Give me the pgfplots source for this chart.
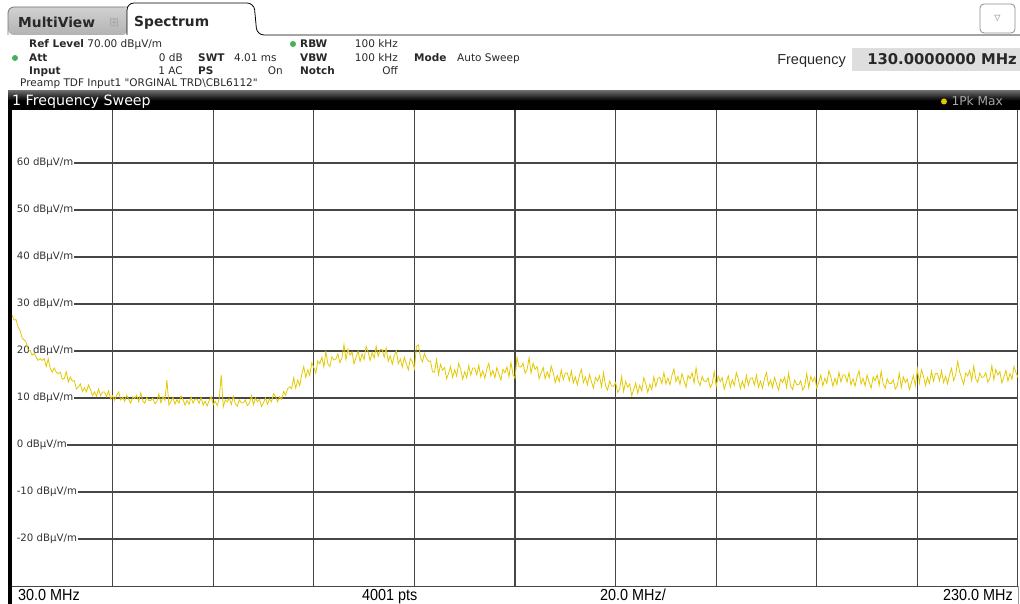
\documentclass[border=0pt]{standalone}
\usepackage{pgfplots}
\pgfplotsset{compat=1.18}
\usepackage{pgfplotstable}
\usepackage{fontspec}
\setmainfont{DejaVu Sans}[Ligatures=TeXOff]
\newfontfamily\libsans{Liberation Sans}
\newfontfamily\narrow[FakeStretch=0.9]{Liberation Sans}
\definecolor{trace}{RGB}{226,200,0}
\definecolor{gridc}{RGB}{70,70,70}
\definecolor{ledgreen}{RGB}{70,175,90}
\definecolor{freqbox}{RGB}{222,222,222}
\definecolor{hdrtext}{RGB}{40,40,40}

\pgfplotstableread[row sep=\\]{
x y\\
30.0 27.6\\ 30.4 26.6\\ 30.8 26.7\\ 31.2 25.1\\ 31.6 24.4\\ 32.0 22.8\\ 32.4 22.4\\ 32.8 21.9\\ 33.2 20.3\\ 33.6 20.1\\
34.0 19.1\\ 34.4 19.5\\ 34.8 18.7\\ 35.2 18.0\\ 35.6 18.4\\ 36.0 18.0\\ 36.4 18.4\\ 36.8 16.7\\ 37.2 18.3\\ 37.6 16.3\\
38.0 15.5\\ 38.4 16.4\\ 38.8 15.5\\ 39.2 15.2\\ 39.6 15.5\\ 40.0 14.0\\ 40.4 14.2\\ 40.8 15.6\\ 41.2 13.4\\ 41.6 14.5\\
42.0 13.6\\ 42.4 13.7\\ 42.8 11.9\\ 43.2 12.4\\ 43.6 13.0\\ 44.0 11.4\\ 44.4 12.2\\ 44.8 11.3\\ 45.2 12.8\\ 45.6 11.8\\
46.0 10.5\\ 46.4 11.3\\ 46.8 10.4\\ 47.2 11.9\\ 47.6 10.5\\ 48.0 11.3\\ 48.4 11.3\\ 48.8 10.3\\ 49.2 11.5\\ 49.6 9.8\\
50.0 10.5\\ 50.4 9.5\\ 50.8 10.6\\ 51.2 11.3\\ 51.6 9.6\\ 52.0 10.2\\ 52.4 9.3\\ 52.8 10.6\\ 53.2 9.7\\ 53.6 8.9\\
54.0 10.3\\ 54.4 9.9\\ 54.8 10.6\\ 55.2 9.2\\ 55.6 11.1\\ 56.0 9.4\\ 56.4 8.9\\ 56.8 10.1\\ 57.2 9.5\\ 57.6 9.5\\
58.0 10.0\\ 58.4 8.8\\ 58.8 9.3\\ 59.2 10.9\\ 59.6 9.0\\ 60.0 10.3\\ 60.4 9.5\\ 60.8 13.8\\ 61.2 8.5\\ 61.6 9.3\\
62.0 10.1\\ 62.4 8.7\\ 62.8 9.7\\ 63.2 8.9\\ 63.6 10.5\\ 64.0 9.7\\ 64.4 8.5\\ 64.8 9.5\\ 65.2 8.7\\ 65.6 10.2\\
66.0 8.9\\ 66.4 9.8\\ 66.8 9.8\\ 67.2 8.9\\ 67.6 10.1\\ 68.0 8.5\\ 68.4 9.3\\ 68.8 8.3\\ 69.2 9.5\\ 69.6 10.3\\
70.0 8.6\\ 70.4 9.3\\ 70.8 8.4\\ 71.2 9.8\\ 71.6 14.9\\ 72.0 8.1\\ 72.4 9.6\\ 72.8 9.2\\ 73.2 9.9\\ 73.6 8.6\\
74.0 10.4\\ 74.4 8.8\\ 74.8 8.3\\ 75.2 9.6\\ 75.6 9.0\\ 76.0 9.0\\ 76.4 9.6\\ 76.8 8.4\\ 77.2 8.9\\ 77.6 10.5\\
78.0 8.6\\ 78.4 10.0\\ 78.8 9.2\\ 79.2 9.7\\ 79.6 8.2\\ 80.0 9.0\\ 80.4 10.0\\ 80.8 8.7\\ 81.2 9.8\\ 81.6 9.2\\
82.0 10.9\\ 82.4 10.3\\ 82.8 9.2\\ 83.2 10.3\\ 83.6 9.7\\ 84.0 11.4\\ 84.4 10.6\\ 84.8 12.0\\ 85.2 12.4\\ 85.6 12.0\\
86.0 14.3\\ 86.4 12.1\\ 86.8 13.8\\ 87.2 12.6\\ 87.6 15.0\\ 88.0 16.7\\ 88.4 14.4\\ 88.8 16.0\\ 89.2 14.8\\ 89.6 17.5\\
90.0 16.5\\ 90.4 15.3\\ 90.8 17.9\\ 91.2 17.3\\ 91.6 18.7\\ 92.0 16.6\\ 92.4 19.9\\ 92.8 17.3\\ 93.2 16.7\\ 93.6 18.8\\
94.0 18.1\\ 94.4 18.3\\ 94.8 19.4\\ 95.2 17.5\\ 95.6 18.5\\ 96.0 21.4\\ 96.4 18.2\\ 96.8 20.4\\ 97.2 19.1\\ 97.6 19.8\\
98.0 17.3\\ 98.4 18.6\\ 98.8 20.0\\ 99.2 17.8\\ 99.6 19.4\\ 100.0 18.2\\ 100.4 21.0\\ 100.8 19.8\\ 101.2 18.0\\ 101.6 19.7\\
102.0 18.5\\ 102.4 21.0\\ 102.8 18.9\\ 103.2 20.3\\ 103.6 20.3\\ 104.0 18.7\\ 104.4 20.6\\ 104.8 17.8\\ 105.2 19.0\\ 105.6 17.2\\
106.0 19.0\\ 106.4 20.1\\ 106.8 17.3\\ 107.2 18.3\\ 107.6 16.6\\ 108.0 18.7\\ 108.4 17.3\\ 108.8 16.0\\ 109.2 18.4\\ 109.6 17.7\\
110.0 16.2\\ 110.4 21.0\\ 110.8 21.3\\ 111.2 18.7\\ 111.6 17.7\\ 112.0 19.5\\ 112.4 18.4\\ 112.8 17.8\\ 113.2 17.9\\ 113.6 15.6\\
114.0 15.5\\ 114.4 18.2\\ 114.8 15.0\\ 115.2 17.2\\ 115.6 15.9\\ 116.0 16.5\\ 116.4 14.1\\ 116.8 15.3\\ 117.2 16.7\\ 117.6 14.4\\
118.0 16.0\\ 118.4 14.7\\ 118.8 17.4\\ 119.2 16.1\\ 119.6 14.0\\ 120.0 15.6\\ 120.4 14.3\\ 120.8 16.9\\ 121.2 14.9\\ 121.6 16.4\\
122.0 16.4\\ 122.4 14.9\\ 122.8 17.0\\ 123.2 14.5\\ 123.6 15.8\\ 124.0 14.2\\ 124.4 16.2\\ 124.8 17.4\\ 125.2 14.7\\ 125.6 15.9\\
126.0 14.3\\ 126.4 16.5\\ 126.8 15.1\\ 127.2 13.8\\ 127.6 16.1\\ 128.0 15.4\\ 128.4 16.6\\ 128.8 14.5\\ 129.2 17.6\\ 129.6 15.0\\
130.0 14.2\\ 130.4 18.6\\ 130.8 16.7\\ 131.2 16.6\\ 131.6 17.4\\ 132.0 15.3\\ 132.4 16.0\\ 132.8 18.6\\ 133.2 15.3\\ 133.6 17.4\\
134.0 16.1\\ 134.4 16.7\\ 134.8 14.1\\ 135.2 15.3\\ 135.6 16.5\\ 136.0 14.1\\ 136.4 15.6\\ 136.8 14.3\\ 137.2 16.8\\ 137.6 15.4\\
138.0 13.3\\ 138.4 14.8\\ 138.8 13.5\\ 139.2 16.0\\ 139.6 13.9\\ 140.0 15.3\\ 140.4 15.3\\ 140.8 13.7\\ 141.2 15.8\\ 141.6 13.2\\
142.0 14.5\\ 142.4 12.8\\ 142.8 14.8\\ 143.2 16.1\\ 143.6 13.3\\ 144.0 14.5\\ 144.4 12.8\\ 144.8 15.0\\ 145.2 13.5\\ 145.6 12.1\\
146.0 14.4\\ 146.4 13.6\\ 146.8 14.7\\ 147.2 12.4\\ 147.6 15.4\\ 148.0 12.6\\ 148.4 11.7\\ 148.8 13.6\\ 149.2 12.6\\ 149.6 12.5\\
150.0 13.3\\ 150.4 11.2\\ 150.8 11.9\\ 151.2 14.6\\ 151.6 11.4\\ 152.0 13.5\\ 152.4 12.3\\ 152.8 13.0\\ 153.2 10.5\\ 153.6 11.8\\
154.0 13.2\\ 154.4 11.0\\ 154.8 12.7\\ 155.2 11.5\\ 155.6 14.3\\ 156.0 13.1\\ 156.4 11.2\\ 156.8 12.9\\ 157.2 11.8\\ 157.6 14.5\\
158.0 12.5\\ 158.4 14.2\\ 158.8 14.4\\ 159.2 13.1\\ 159.6 15.4\\ 160.0 13.0\\ 160.4 14.3\\ 160.8 12.8\\ 161.2 14.8\\ 161.6 16.2\\
162.0 13.5\\ 162.4 14.6\\ 162.8 12.9\\ 163.2 15.2\\ 163.6 13.7\\ 164.0 12.3\\ 164.4 14.8\\ 164.8 14.1\\ 165.2 15.4\\ 165.6 13.2\\
166.0 16.4\\ 166.4 13.6\\ 166.8 12.7\\ 167.2 14.6\\ 167.6 13.6\\ 168.0 13.5\\ 168.4 14.3\\ 168.8 12.2\\ 169.2 13.0\\ 169.6 15.6\\
170.0 12.4\\ 170.4 14.7\\ 170.8 13.5\\ 171.2 14.3\\ 171.6 11.9\\ 172.0 13.3\\ 172.4 14.7\\ 172.8 12.3\\ 173.2 13.9\\ 173.6 12.7\\
174.0 15.4\\ 174.4 14.0\\ 174.8 12.0\\ 175.2 13.6\\ 175.6 12.2\\ 176.0 14.8\\ 176.4 12.7\\ 176.8 14.2\\ 177.2 14.3\\ 177.6 12.8\\
178.0 14.9\\ 178.4 12.3\\ 178.8 13.6\\ 179.2 12.1\\ 179.6 14.1\\ 180.0 15.4\\ 180.4 12.7\\ 180.8 13.8\\ 181.2 12.2\\ 181.6 14.4\\
182.0 13.0\\ 182.4 11.7\\ 182.8 14.0\\ 183.2 13.3\\ 183.6 14.4\\ 184.0 12.2\\ 184.4 15.3\\ 184.8 12.6\\ 185.2 11.8\\ 185.6 13.8\\
186.0 12.9\\ 186.4 12.8\\ 186.8 13.7\\ 187.2 11.7\\ 187.6 12.5\\ 188.0 15.2\\ 188.4 12.2\\ 188.8 14.6\\ 189.2 13.5\\ 189.6 14.4\\
190.0 12.1\\ 190.4 13.4\\ 190.8 14.9\\ 191.2 12.6\\ 191.6 14.2\\ 192.0 13.1\\ 192.4 15.8\\ 192.8 14.5\\ 193.2 12.5\\ 193.6 14.2\\
194.0 12.9\\ 194.4 15.5\\ 194.8 13.4\\ 195.2 14.9\\ 195.6 14.9\\ 196.0 13.4\\ 196.4 15.4\\ 196.8 12.8\\ 197.2 14.1\\ 197.6 12.5\\
198.0 14.5\\ 198.4 15.8\\ 198.8 13.0\\ 199.2 14.2\\ 199.6 12.6\\ 200.0 14.9\\ 200.4 13.4\\ 200.8 12.1\\ 201.2 14.5\\ 201.6 13.7\\
202.0 14.9\\ 202.4 12.7\\ 202.8 15.7\\ 203.2 13.0\\ 203.6 12.1\\ 204.0 14.1\\ 204.4 13.1\\ 204.8 13.1\\ 205.2 13.9\\ 205.6 11.9\\
206.0 12.6\\ 206.4 15.3\\ 206.8 12.2\\ 207.2 14.5\\ 207.6 13.3\\ 208.0 14.0\\ 208.4 11.8\\ 208.8 13.2\\ 209.2 14.8\\ 209.6 12.6\\
210.0 16.2\\ 210.4 13.2\\ 210.8 16.0\\ 211.2 14.7\\ 211.6 12.7\\ 212.0 14.4\\ 212.4 13.1\\ 212.8 15.7\\ 213.2 13.6\\ 213.6 15.2\\
214.0 15.2\\ 214.4 13.7\\ 214.8 15.8\\ 215.2 13.3\\ 215.6 14.6\\ 216.0 13.0\\ 216.4 15.0\\ 216.8 16.3\\ 217.2 13.7\\ 217.6 14.9\\
218.0 17.8\\ 218.4 15.6\\ 218.8 14.2\\ 219.2 12.9\\ 219.6 15.3\\ 220.0 14.7\\ 220.4 15.9\\ 220.8 13.7\\ 221.2 16.8\\ 221.6 14.1\\
222.0 13.3\\ 222.4 15.3\\ 222.8 14.4\\ 223.2 14.5\\ 223.6 15.4\\ 224.0 13.4\\ 224.4 14.2\\ 224.8 16.9\\ 225.2 13.9\\ 225.6 16.1\\
226.0 14.9\\ 226.4 15.6\\ 226.8 13.2\\ 227.2 14.5\\ 227.6 15.9\\ 228.0 13.6\\ 228.4 15.2\\ 228.8 14.0\\ 229.2 16.7\\ 229.6 15.4\\
230.0 14.4\\
}\tracedata

\begin{document}
\begin{tikzpicture}[x=1pt,y=1pt]
\useasboundingbox (0,0) rectangle (1020,604);
% ---------- tabs ----------
\shade[top color=black!18, bottom color=black!30, rounded corners=6pt] (8,569) -- (8,597) -- (128,597) -- (128,569) -- cycle;
\draw[black!55, line width=0.8pt, rounded corners=6pt] (8,569) -- (8,597) -- (128,597);
\node[anchor=base west, inner sep=0pt, font=\fontsize{13.8}{15}\selectfont\bfseries, text=hdrtext] at (18,576) {MultiView};
\node[anchor=base west, inner sep=0pt, font=\fontsize{12}{13}\selectfont, text=black!35] at (109,577) {⊞};
\draw[fill=white, line width=0.8pt, rounded corners=7pt] (127,569) -- (127,601) -- (254,601) -- (257,569) -- (1020,569);
\node[anchor=base west, inner sep=0pt, font=\fontsize{13.8}{15}\selectfont\bfseries, text=hdrtext] at (134,577) {Spectrum};
% dropdown button
\draw[black!45, fill=white, rounded corners=4pt, line width=0.8pt] (980,571) rectangle (1015,600);
\node[inner sep=0pt, font=\fontsize{8}{9}\selectfont, text=black!55] at (997.5,585.5) {▽};
% ---------- header ----------
\begin{scope}[every node/.style={inner sep=0pt, font=\fontsize{10.5}{12}\selectfont, text=hdrtext}]
\node[anchor=base west] at (29,556) {\textbf{Ref Level} 70.00 dBµV/m};
\fill[ledgreen] (293,560) circle (3);
\node[anchor=base west, font=\fontsize{10.5}{12}\selectfont\bfseries] at (300,556) {RBW};
\node[anchor=base east] at (398,556) {100 kHz};
\fill[ledgreen] (15,546) circle (3);
\node[anchor=base west, font=\fontsize{10.5}{12}\selectfont\bfseries] at (29,542) {Att};
\node[anchor=base east] at (183,542) {0 dB};
\node[anchor=base west, font=\fontsize{10.5}{12}\selectfont\bfseries] at (198,542) {SWT};
\node[anchor=base west] at (234,542) {4.01 ms};
\node[anchor=base west, font=\fontsize{10.5}{12}\selectfont\bfseries] at (300,542) {VBW};
\node[anchor=base east] at (398,542) {100 kHz};
\node[anchor=base west, font=\fontsize{10.5}{12}\selectfont\bfseries] at (414,542) {Mode};
\node[anchor=base west] at (457,542) {Auto Sweep};
\node[anchor=base west, font=\fontsize{10.5}{12}\selectfont\bfseries] at (29,529) {Input};
\node[anchor=base east] at (183,529) {1 AC};
\node[anchor=base west, font=\fontsize{10.5}{12}\selectfont\bfseries] at (198,529) {PS};
\node[anchor=base east] at (283,529) {On};
\node[anchor=base west, font=\fontsize{10.5}{12}\selectfont\bfseries] at (300,529) {Notch};
\node[anchor=base east] at (398,529) {Off};
\node[anchor=base west] at (20,517) {Preamp TDF Input1 "ORGINAL TRD\textbackslash CBL6112"};
\end{scope}
% frequency
\fill[freqbox] (852,533) rectangle (1020,556);
\node[anchor=base east, inner sep=0pt, font=\libsans\fontsize{14.5}{16}\selectfont, text=hdrtext] at (846,539) {Frequency};
\node[anchor=base east, inner sep=0pt, font=\fontsize{14.8}{16}\selectfont\bfseries, text=hdrtext] at (1017,539) {130.0000000 MHz};
% ---------- title bar ----------
\shade[top color=black!60, bottom color=black, middle color=black] (8,494) rectangle (1020,513);
\node[anchor=base west, inner sep=0pt, font=\fontsize{14.2}{15}\selectfont, text=white] at (12,498) {1 Frequency Sweep};
\fill[trace] (944,502.5) circle (3);
\node[anchor=base east, inner sep=0pt, font=\fontsize{12.2}{13}\selectfont, text=black!35] at (1003,498) {1Pk Max};
% left bar
\fill[black] (8,0) rectangle (12,494);
% ---------- axis ----------
\begin{axis}[at={(12pt,18pt)}, anchor=south west, scale only axis,
  width=1006pt, height=476pt,
  xmin=30, xmax=230, ymin=-30, ymax=71.3,
  xtick={50,70,...,210}, ytick={-20,-10,...,60},
  xticklabels={}, yticklabels={},
  grid=major, major grid style={gridc, line width=1.2pt},
  axis line style={draw=none}, tick style={draw=none},
  clip=true]
\draw[gridc, line width=1.2pt] (axis cs:230,-30) -- (axis cs:230,71.3);
\pgfplotsinvokeforeach{-20,-10,...,60}{
  \node[anchor=west, fill=white, inner sep=0.6pt, font=\fontsize{10.2}{12}\selectfont, text=black!80] at (axis cs:30,#1) {\hspace*{4pt}#1 dBµV/m};
}
\addplot[trace, line width=0.8pt, no marks] table[x=x, y=y] {\tracedata};
\end{axis}
% ---------- bottom label row ----------
\draw[gridc, line width=1pt] (12,17.5) -- (1018,17.5);
\draw[black!40, line width=0.6pt] (1018,0) -- (1018,17.5);
\begin{scope}[every node/.style={inner sep=0pt, font=\narrow\fontsize{16}{17}\selectfont, text=black}]
\node[anchor=base west] at (18,3) {30.0 MHz};
\node[anchor=base west] at (362,3) {4001 pts};
\node[anchor=base west] at (600,3) {20.0 MHz/};
\node[anchor=base east] at (1013,3) {230.0 MHz};
\end{scope}
\end{tikzpicture}
\end{document}
